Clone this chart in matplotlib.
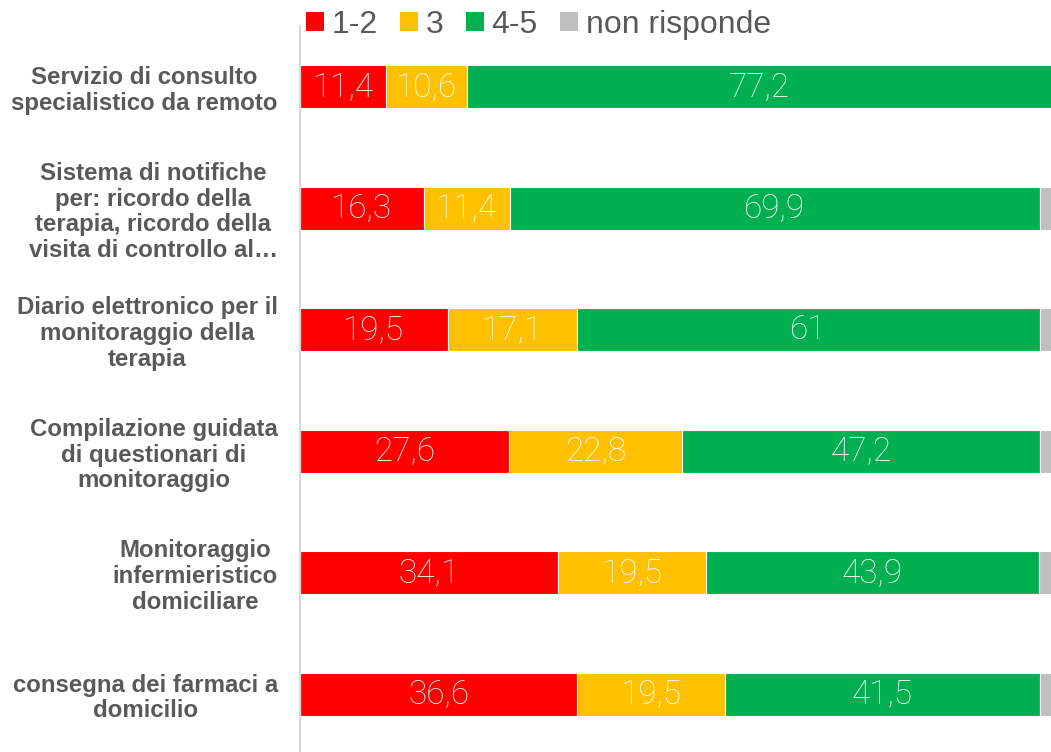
import matplotlib
matplotlib.use("Agg")
import matplotlib.pyplot as plt
from matplotlib.patches import Patch

categories = [
    "Servizio di consulto\nspecialistico da remoto",
    "Sistema di notifiche\nper: ricordo della\nterapia, ricordo della\nvisita di controllo al…",
    "Diario elettronico per il\nmonitoraggio della\nterapia",
    "Compilazione guidata\ndi questionari di\nmonitoraggio",
    "Monitoraggio\ninfermieristico\ndomiciliare",
    "consegna dei farmaci a\ndomicilio",
]
series_names = ["1-2", "3", "4-5", "non risponde"]
v_12 = [11.4, 16.3, 19.5, 27.6, 34.1, 36.6]
v_3 = [10.6, 11.4, 17.1, 22.8, 19.5, 19.5]
v_45 = [77.2, 69.9, 61.0, 47.2, 43.9, 41.5]
v_nr = [0.8, 2.4, 2.4, 2.4, 2.5, 2.4]
colors = ["#FF0000", "#FFC000", "#00B050", "#BFBFBF"]

W, H = 1051, 752
fig = plt.figure(figsize=(W / 100, H / 100), dpi=100)
ax = fig.add_axes([300 / W, -3 / H, 758 / W, 729 / H])

y = list(range(len(categories)))
left = [0.0] * len(categories)
for name, vals, col in zip(series_names, [v_12, v_3, v_45, v_nr], colors):
    ax.barh(y, vals, left=left, height=0.355, color=col,
            edgecolor="white", linewidth=0.8, label=name)
    if name != "non risponde":
        for yi, l, v in zip(y, left, vals):
            txt = f"{v:g}".replace(".", ",")
            ax.text(l + v / 2, yi, txt, ha="center", va="center",
                    color="white", fontsize=24, family=["Roboto", "DejaVu Sans"],
                    fontweight="light")
    left = [a + b for a, b in zip(left, vals)]

ax.set_xlim(0, 100)
ax.set_ylim(5.5, -0.5)
ax.set_yticks(y)
ax.set_yticklabels(categories, fontsize=17.3, fontweight="bold",
                   color="#595959", family=["Liberation Sans", "DejaVu Sans"],
                   multialignment="center", linespacing=1.15)
ax.tick_params(axis="y", length=0, pad=16)
ax.set_xticks([])
for s in ["top", "right", "bottom"]:
    ax.spines[s].set_visible(False)
ax.spines["left"].set_color("#D9D9D9")
ax.spines["left"].set_linewidth(1.5)

handles = [Patch(facecolor=c, edgecolor="none") for c in colors]
fig.legend(handles, series_names, loc="upper left", bbox_to_anchor=(287 / W, 1.012),
           ncol=4, frameon=False, handlelength=0.55, handleheight=0.55,
           handletextpad=0.25, columnspacing=0.7, borderaxespad=0.2,
           prop={"family": ["Liberation Sans", "DejaVu Sans"], "size": 23},
           labelcolor="#595959")

fig.savefig("out.png", dpi=100)
